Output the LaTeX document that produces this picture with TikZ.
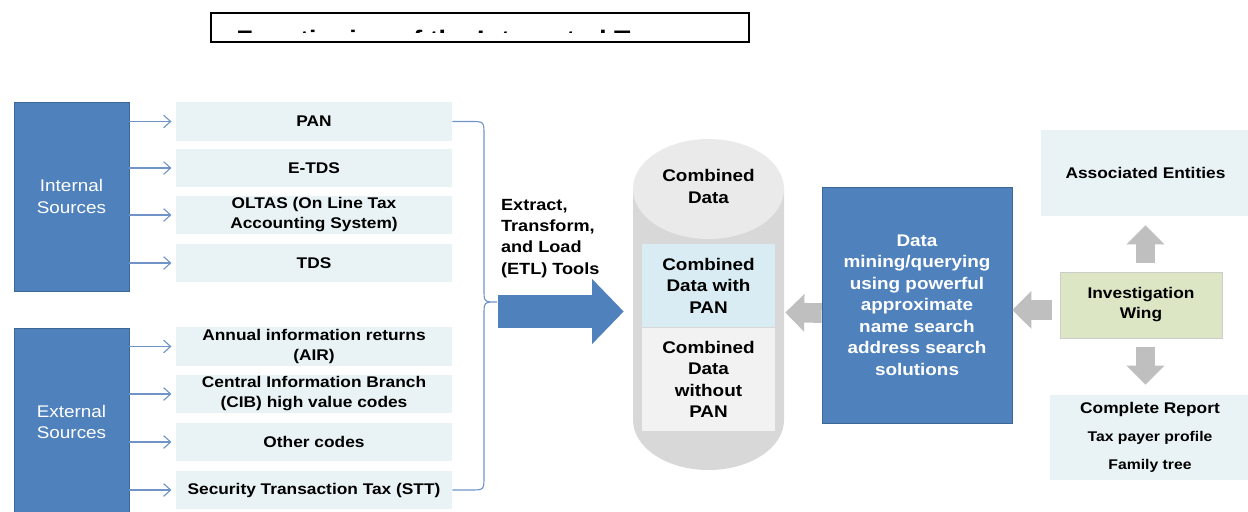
\documentclass[tikz,border=0pt]{standalone}
\usepackage{fontspec}
\setmainfont{Liberation Sans}[FakeStretch=1.12]
\usetikzlibrary{arrows.meta}
\definecolor{srcblue}{RGB}{79,129,189}
\definecolor{srcedge}{RGB}{60,104,150}
\definecolor{itemfill}{RGB}{233,243,246}
\definecolor{linkblue}{RGB}{112,148,200}
\definecolor{blockgray}{RGB}{191,191,191}
\definecolor{cyltop}{RGB}{234,234,234}
\definecolor{cylside}{RGB}{216,216,216}
\definecolor{panfill}{RGB}{218,236,243}
\definecolor{nopanfill}{RGB}{242,242,242}
\definecolor{wingfill}{RGB}{221,230,196}
\begin{document}
\begin{tikzpicture}[x=0.025cm,y=-0.025cm,
  srcbox/.style={draw=srcedge,fill=srcblue,text=white,align=center,minimum width=2.875cm,font=\fontsize{12}{15}\selectfont},
  item/.style={fill=itemfill,align=center,minimum width=6.9cm,minimum height=0.95cm,inner sep=0pt,font=\fontsize{11}{14.2}\selectfont\bfseries},
  link/.style={draw=linkblue,line width=0.8pt,-{Straight Barb[length=5pt,width=9pt]},shorten >=3pt},
  block/.style={draw=blockgray,line width=14pt,-{Triangle[length=13.5pt,width=26pt]}},
  txt/.style={align=center,font=\fontsize{12}{15.3}\selectfont\bfseries}]
\useasboundingbox (0,0) rectangle (1248,512);
\fill[white] (0,0) rectangle (1248,512);

\draw[line width=1.4pt] (211,13) rectangle (749,42);
\begin{scope}
\clip (212,30) rectangle (748,32.8);
\node[anchor=base west,inner sep=0pt,font=\fontsize{17}{20}\selectfont\bfseries] (title) at (236,47.6) {Functioning of the Integrated T};
\end{scope}

\node[srcbox,minimum height=4.725cm] (int) at (71.5,196.5) {Internal\\Sources};
\node[srcbox,minimum height=4.7cm] (ext) at (71.5,422) {External\\Sources};

\node[item] (pan) at (314,121.5) {PAN};
\node[item] (etds) at (314,168) {E-TDS};
\node[item] (oltas) at (314,215) {OLTAS (On Line Tax\\Accounting System)};
\node[item] (tds) at (314,263) {TDS};
\node[item] (air) at (314,346.5) {Annual information returns\\(AIR)};
\node[item] (cib) at (314,394) {Central Information Branch\\(CIB) high value codes};
\node[item] (other) at (314,442) {Other codes};
\node[item] (stt) at (314,490) {Security Transaction Tax (STT)};

\draw[link] (int.east |- pan.west) -- (pan.west);
\draw[link] (int.east |- etds.west) -- (etds.west);
\draw[link] (int.east |- oltas.west) -- (oltas.west);
\draw[link] (int.east |- tds.west) -- (tds.west);
\draw[link] (ext.east |- air.west) -- (air.west);
\draw[link] (ext.east |- cib.west) -- (cib.west);
\draw[link] (ext.east |- other.west) -- (other.west);
\draw[link] (ext.east |- stt.west) -- (stt.west);

\coordinate (bracetip) at (497,302);
\draw[linkblue,line width=0.8pt] (pan.east) -- (470,121.5) .. controls (484,121.5) .. (484,135) -- (484,289) .. controls (484,302) .. (bracetip) .. controls (484,302) .. (484,315) -- (484,476) .. controls (484,490) .. (470,490) -- (stt.east);

\node[anchor=west,align=left,inner sep=2pt,font=\fontsize{11.5}{15}\selectfont\bfseries] (etl) at (498,238.5) {Extract,\\Transform,\\and Load\\(ETL) Tools};

\fill[cylside] (633,189) -- (633,420) arc[start angle=180,end angle=0,x radius=75.5,y radius=50] -- (784,189) -- cycle;
\fill[cyltop] (708.5,189) ellipse [x radius=75.5,y radius=50];
\node[minimum width=3.775cm,minimum height=8.275cm,inner sep=0pt] (store) at (708.5,304.5) {};
\node[txt] (comb) at (708.5,186.5) {Combined\\Data};
\node[txt,fill=panfill,minimum width=3.325cm,minimum height=2.075cm,inner sep=0pt] (withpan) at (708.5,285.5) {Combined\\Data with\\PAN};
\node[txt,fill=nopanfill,minimum width=3.325cm,minimum height=2.575cm,inner sep=0pt] (nopan) at (708.5,379.5) {Combined\\Data\\without\\PAN};

\coordinate (etlstart) at (498,311.5);
\draw[srcblue,line width=23.5pt,-{Triangle[length=22.5pt,width=45pt]},shorten >=6.4pt] (etlstart) -- (etlstart -| store.west);

\node[srcbox,font=\fontsize{12}{15.3}\selectfont\bfseries,minimum width=4.75cm,minimum height=5.9cm] (mine) at (917,305) {Data\\mining/querying\\using powerful\\approximate\\name search\\address search\\solutions};

\node[draw=gray!40,fill=wingfill,align=center,minimum width=4.05cm,minimum height=1.65cm,font=\fontsize{11}{14.2}\selectfont\bfseries] (wing) at (1141,305) {Investigation\\Wing};
\node[fill=itemfill,minimum width=5.225cm,minimum height=2.15cm,font=\fontsize{11}{14}\selectfont\bfseries] (assoc) at (1145.5,173) {Associated Entities};
\node[fill=itemfill,align=center,minimum width=5cm,minimum height=2.125cm,inner sep=0pt,font=\fontsize{10}{20}\selectfont\bfseries] (report) at (1150,437.5) {{\fontsize{11}{20}\selectfont Complete Report}\\Tax payer profile\\Family tree};

\draw[block,shorten >=0.7pt] ([yshift=-5.7pt]mine.west) -- ([yshift=-5.7pt]store.east);
\draw[block,shorten <=5.7pt] ([yshift=-3.5pt]wing.west) -- ([yshift=-3.5pt]mine.east);
\draw[block,shorten <=6.4pt,shorten >=6.4pt] (assoc.south |- wing.north) -- (assoc.south);
\draw[block,shorten <=6.4pt,shorten >=7.1pt] (assoc.south |- wing.south) -- (assoc.south |- report.north);
\end{tikzpicture}
\end{document}
